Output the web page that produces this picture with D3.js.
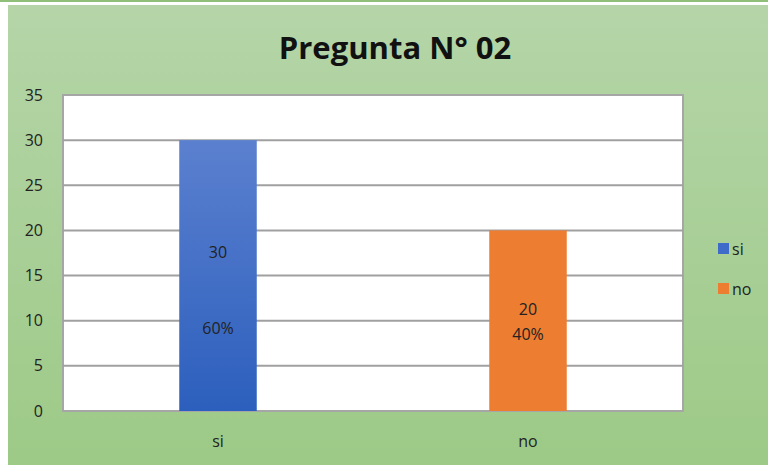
<!DOCTYPE html>
<html>
<head>
<meta charset="utf-8">
<script src="https://cdn.jsdelivr.net/npm/d3@7"></script>
<style>
  html, body { margin: 0; padding: 0; background: #fff; }
  svg { display: block; font-family: "Open Sans", "Noto Sans", sans-serif; }
</style>
</head>
<body>
<svg id="chart" width="768" height="466"></svg>
<script>
// data
const categories = ['si', 'no'];
const values = [30, 20];
const percents = ['60%', '40%'];
const yTicks = [0, 5, 10, 15, 20, 25, 30, 35];
const colors = { si: 'url(#blueGrad)', no: '#ed7d31' };
const legendColors = { si: '#3f6cc9', no: '#ed7d31' };

function renderChart() {
  const svg = d3.select('#chart');
  const width = 768, height = 466;
  const margin = { top: 95, right: 85, bottom: 55, left: 63 };
  const plotW = width - margin.left - margin.right;
  const plotH = height - margin.top - margin.bottom;

  const defs = svg.append('defs');
  const bg = defs.append('linearGradient').attr('id', 'bgGrad')
    .attr('x1', 0).attr('y1', 0).attr('x2', 0).attr('y2', 1);
  bg.append('stop').attr('offset', '0%').attr('stop-color', '#b5d5a8');
  bg.append('stop').attr('offset', '100%').attr('stop-color', '#9dca87');

  const blue = defs.append('linearGradient').attr('id', 'blueGrad')
    .attr('x1', 0).attr('y1', 0).attr('x2', 0).attr('y2', 1);
  blue.append('stop').attr('offset', '0%').attr('stop-color', '#5b80cf');
  blue.append('stop').attr('offset', '100%').attr('stop-color', '#2c5fbd');

  // background
  svg.append('rect').attr('x', 0).attr('y', 0).attr('width', width).attr('height', 2)
    .attr('fill', '#8fbf78');
  svg.append('rect').attr('x', 8).attr('y', 5).attr('width', width - 8).attr('height', 460)
    .attr('fill', 'url(#bgGrad)');

  // title
  svg.append('text')
    .attr('x', 395).attr('y', 59)
    .attr('text-anchor', 'middle')
    .attr('font-size', 31).attr('font-weight', 'bold')
    .attr('fill', '#111')
    .text('Pregunta N° 02');

  const g = svg.append('g').attr('transform', `translate(${margin.left},${margin.top})`);

  const x = d3.scaleBand().domain(categories).range([0, plotW]);
  const y = d3.scaleLinear().domain([0, 35]).range([plotH, 0]);

  // plot area
  g.append('rect').attr('width', plotW).attr('height', plotH)
    .attr('fill', '#fff').attr('stroke', '#a6a6a6').attr('stroke-width', 2);

  // gridlines
  g.selectAll('.grid')
    .data(yTicks.filter(t => t > 0 && t < 35))
    .enter().append('line')
    .attr('class', 'grid')
    .attr('x1', 0).attr('x2', plotW)
    .attr('y1', d => y(d)).attr('y2', d => y(d))
    .attr('stroke', '#a0a0a0').attr('stroke-width', 2);

  // y axis labels
  g.selectAll('.ytick')
    .data(yTicks)
    .enter().append('text')
    .attr('class', 'ytick')
    .attr('x', -20).attr('y', d => y(d))
    .attr('dy', '0.35em')
    .attr('text-anchor', 'end')
    .attr('font-size', 16).attr('fill', '#222')
    .text(d => d);

  // bars
  const barW = x.bandwidth() * 0.25;
  g.selectAll('.bar')
    .data(categories)
    .enter().append('rect')
    .attr('class', 'bar')
    .attr('x', d => x(d) + (x.bandwidth() - barW) / 2)
    .attr('y', (d, i) => y(values[i]))
    .attr('width', barW)
    .attr('height', (d, i) => plotH - y(values[i]))
    .attr('fill', d => colors[d]);

  // bar labels
  const labelPos = [
    { v: 17.6, p: 9.1 },
    { v: 11.2, p: 8.5 }
  ];
  g.selectAll('.vlabel')
    .data(categories)
    .enter().append('text')
    .attr('x', d => x(d) + x.bandwidth() / 2)
    .attr('y', (d, i) => y(labelPos[i].v))
    .attr('dy', '0.35em')
    .attr('text-anchor', 'middle')
    .attr('font-size', 16).attr('fill', '#222')
    .text((d, i) => values[i]);
  g.selectAll('.plabel')
    .data(categories)
    .enter().append('text')
    .attr('x', d => x(d) + x.bandwidth() / 2)
    .attr('y', (d, i) => y(labelPos[i].p))
    .attr('dy', '0.35em')
    .attr('text-anchor', 'middle')
    .attr('font-size', 16).attr('fill', '#222')
    .text((d, i) => percents[i]);

  // x labels
  g.selectAll('.xlabel')
    .data(categories)
    .enter().append('text')
    .attr('x', d => x(d) + x.bandwidth() / 2)
    .attr('y', plotH + 30)
    .attr('dy', '0.35em')
    .attr('text-anchor', 'middle')
    .attr('font-size', 16).attr('fill', '#222')
    .text(d => d);

  // legend
  const legend = svg.append('g').attr('transform', 'translate(718,243)');
  const items = legend.selectAll('g').data(categories).enter().append('g')
    .attr('transform', (d, i) => `translate(0,${i * 40})`);
  items.append('rect')
    .attr('width', 11).attr('height', 11)
    .attr('fill', d => legendColors[d]);
  items.append('text')
    .attr('x', 14).attr('y', 6)
    .attr('dy', '0.35em')
    .attr('font-size', 16).attr('fill', '#222')
    .text(d => d);
}

renderChart();
</script>
</body>
</html>
